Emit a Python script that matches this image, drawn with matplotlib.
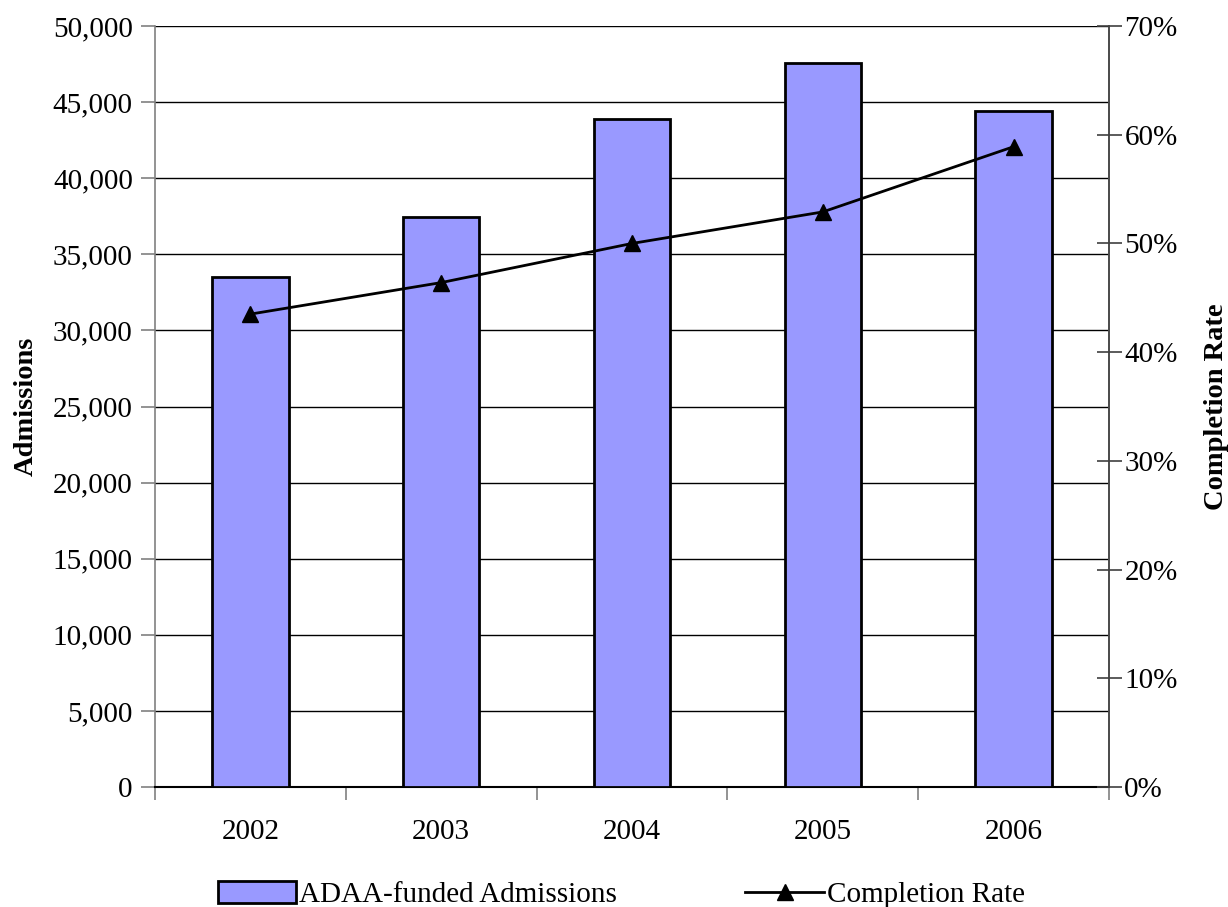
import matplotlib
matplotlib.use("Agg")
import matplotlib.pyplot as plt
from matplotlib.ticker import FuncFormatter, MultipleLocator
from matplotlib.lines import Line2D
from matplotlib.patches import Patch
import numpy as np

years = ["2002", "2003", "2004", "2005", "2006"]
admissions = [33500, 37450, 43900, 47550, 44400]
completion_rate = [43.5, 46.4, 50.0, 52.9, 58.9]

plt.rcParams["font.family"] = ["Liberation Serif", "DejaVu Serif"]

fig = plt.figure(figsize=(12.28, 9.07), dpi=100)
ax = fig.add_axes([0.1262, 0.1323, 0.9031 - 0.1262, 0.9713 - 0.1323])
x = np.arange(len(years))

bar_color = "#9999FF"
ax.bar(x, admissions, width=0.40, color=bar_color, edgecolor="black",
       linewidth=2, zorder=3)
ax.set_xlim(-0.5, len(years) - 0.5)
ax.set_ylim(0, 50000)
ax.yaxis.set_major_locator(MultipleLocator(5000))
ax.yaxis.set_major_formatter(FuncFormatter(lambda v, p: f"{int(v):,}"))
ax.grid(axis="y", color="black", linewidth=1.0, zorder=0)
ax.set_axisbelow(True)

# category ticks sit on boundaries; labels centred under bars
ax.set_xticks(np.arange(-0.5, len(years)), minor=False)
ax.set_xticklabels([])
ax.set_xticks(x, minor=True)
ax.set_xticklabels(years, minor=True)
ax.tick_params(axis="x", which="major", direction="out", length=9,
               color="#808080", width=1.2)
ax.tick_params(axis="x", which="minor", length=0, labelsize=21, pad=23)
ax.tick_params(axis="y", direction="out", length=10, color="#808080",
               width=1.2, labelsize=21, pad=6)

ax.spines["top"].set_visible(False)
ax.spines["left"].set_color("#808080")
ax.spines["left"].set_linewidth(1.2)
ax.spines["right"].set_color("#808080")
ax.spines["right"].set_linewidth(1.2)
ax.spines["bottom"].set_color("black")
ax.spines["bottom"].set_linewidth(1.5)

ax.set_ylabel("Admissions", fontsize=20.5, fontweight="bold", labelpad=10)

ax2 = ax.twinx()
ax2.plot(x, completion_rate, color="black", linewidth=2, marker="^",
         markersize=11, zorder=5)
ax2.set_ylim(0, 70)
ax2.yaxis.set_major_locator(MultipleLocator(10))
ax2.yaxis.set_major_formatter(FuncFormatter(lambda v, p: f"{int(v)}%"))
ax2.tick_params(axis="y", direction="inout", length=18, color="#404040",
                width=1.2, labelsize=21, pad=2)
ax2.spines["top"].set_visible(False)
ax2.spines["left"].set_visible(False)
ax2.spines["bottom"].set_visible(False)
ax2.spines["right"].set_color("#404040")
ax2.spines["right"].set_linewidth(1.2)
ax2.set_ylabel("Completion Rate", fontsize=20.5, fontweight="bold",
               labelpad=19)

handles = [
    Patch(facecolor=bar_color, edgecolor="black", linewidth=2),
    Line2D([0], [0], color="black", linewidth=2, marker="^", markersize=11),
]
fig.legend(handles, ["ADAA-funded Admissions", "Completion Rate"],
           loc="center", bbox_to_anchor=(0.506, 0.0135), ncol=2,
           frameon=False, fontsize=21, handlelength=2.7, handleheight=0.75,
           handletextpad=0.1, columnspacing=4.4, borderpad=0)

fig.savefig("out.png", dpi=100)
